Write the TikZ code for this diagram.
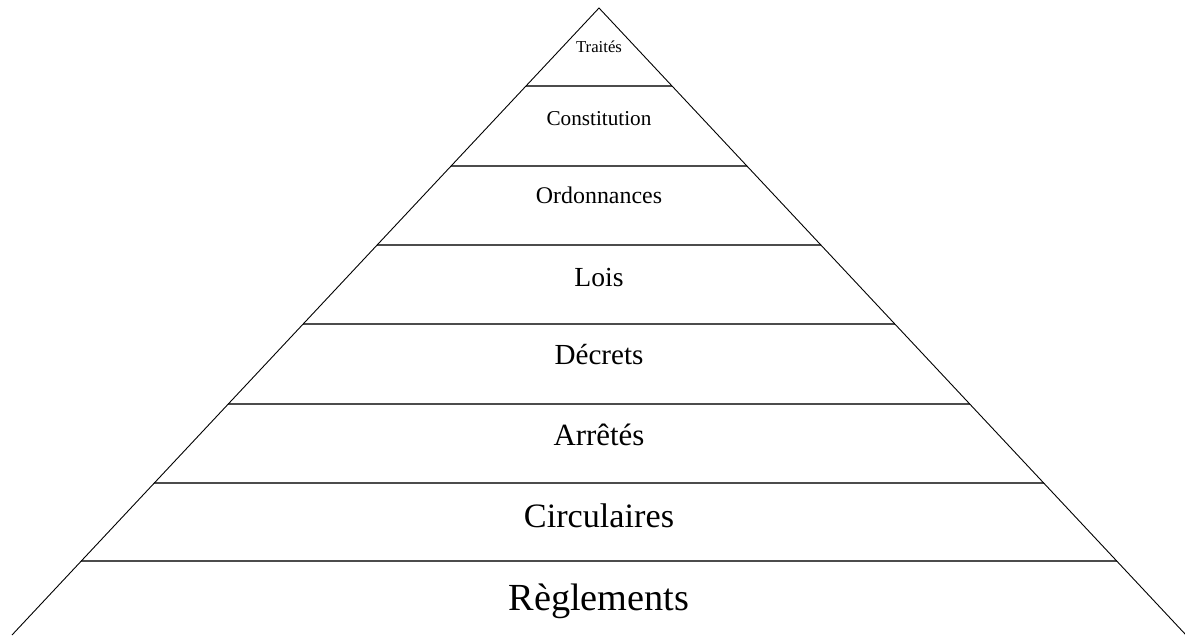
\documentclass[tikz,border=0pt]{standalone}
\usepackage{fontspec}
\setmainfont{Liberation Serif}
\usetikzlibrary{calc}
\tikzset{
  side/.style={draw=black, line width=0.9pt},
  tier/.style={draw=black!70, line width=2.2pt},
  lbl/.style={anchor=base, inner sep=0pt, text=black}
}
\newcommand{\fsz}[1]{\fontsize{#1}{#1}\selectfont}
\begin{document}
\begin{tikzpicture}[x=1pt,y=-1pt]
\useasboundingbox (0,0) rectangle (1185,635);
\coordinate (apex) at (599,8);
\coordinate (bl) at (12,635);
\coordinate (br) at (1186,635);
% tier lines
\foreach \yy in {86,166,245,324,404,483,561}{
  \pgfmathsetmacro{\t}{(\yy-8)/627}
  \draw[tier] ($(apex)!\t!(bl)$) -- ($(apex)!\t!(br)$);
}
\draw[side] (bl) -- (apex) -- (br);
% labels
\node[lbl, font=\fsz{16.7}] (traites) at (599,52) {Traités};
\node[lbl, font=\fsz{21.2}] (constitution) at (599,125.5) {Constitution};
\node[lbl, font=\fsz{23.9}] (ordonnances) at (599,203.5) {Ordonnances};
\node[lbl, font=\fsz{27.6}] (lois) at (599,286) {Lois};
\node[lbl, font=\fsz{29.1}] (decrets) at (599,364.5) {Décrets};
\node[lbl, font=\fsz{30.9}] (arretes) at (599,445.5) {Arrêtés};
\node[lbl, font=\fsz{34.2}] (circulaires) at (599,527.5) {Circulaires};
\node[lbl, font=\fsz{38.3}] (reglements) at (599,610) {Règlements};
\end{tikzpicture}
\end{document}
